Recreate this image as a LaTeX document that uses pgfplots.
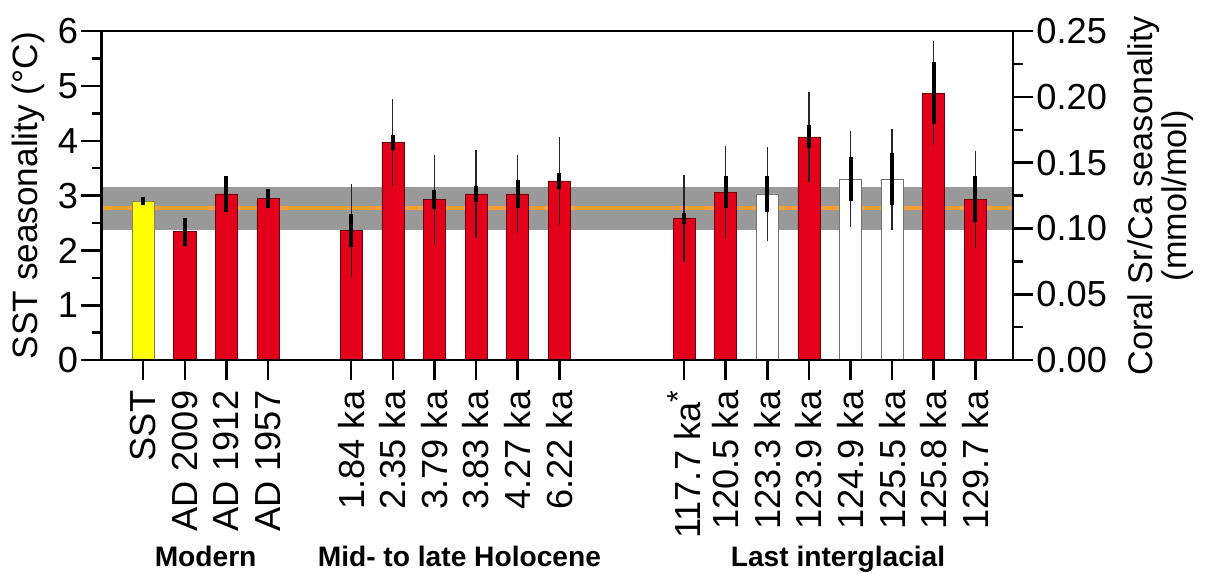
\documentclass[border=0pt]{standalone}
\usepackage{fontspec}
\setmainfont{Liberation Sans}
\usepackage{pgfplots}
\pgfplotsset{compat=1.18}

\definecolor{barred}{RGB}{226,0,26}
\definecolor{barredline}{RGB}{110,0,10}
\definecolor{baryellow}{RGB}{255,255,0}
\definecolor{bandgray}{RGB}{153,153,153}
\definecolor{sstorange}{RGB}{245,158,50}

\begin{document}
\begin{tikzpicture}
\begin{axis}[
  name=main,
  scale only axis, width=906pt, height=327pt,
  xmin=-1, xmax=20.9, ymin=0, ymax=6,
  axis on top, clip mode=individual,
  axis line style={line width=2.5pt},
  tick align=outside, xtick pos=bottom, ytick pos=left,
  major tick length=20pt, minor tick length=10pt,
  every tick/.style={black, line width=2.5pt},
  xtick={0,1,2,3,5,6,7,8,9,10,13,14,15,16,17,18,19,20},
  xticklabels={SST, AD 2009, AD 1912, AD 1957, 1.84 ka, 2.35 ka, 3.79 ka, 3.83 ka, 4.27 ka, 6.22 ka,
    117.7 ka\raisebox{0.32em}{\fontsize{30}{30}\selectfont *}, 120.5 ka, 123.3 ka, 123.9 ka, 124.9 ka, 125.5 ka, 125.8 ka, 129.7 ka},
  ytick={0,1,2,3,4,5,6}, minor y tick num=1,
  tick label style={font=\fontsize{36}{40}\selectfont, /pgf/number format/assume math mode=true},
  xticklabel style={rotate=90, anchor=east},
  xticklabel shift=7pt,
  ylabel={SST seasonality (°C)},
  ylabel style={font=\fontsize{35}{40}\selectfont},
  ylabel shift=6pt,
]
% reference band and mean line
\addplot[forget plot, draw=none, fill=bandgray] coordinates {(-1,2.38) (21,2.38) (21,3.15) (-1,3.15)} -- cycle;
\addplot[forget plot, sstorange, line width=3.5pt] coordinates {(-1,2.77) (21,2.77)};

% bars
\addplot[ybar, bar width=0.53, bar shift=0pt, fill=baryellow, draw=black!40!yellow!80!black, line width=0.6pt]
  coordinates {(0,2.90)};
\addplot[ybar, bar width=0.53, bar shift=0pt, fill=barred, draw=barredline, line width=0.6pt]
  coordinates {(1,2.34) (2,3.03) (3,2.95) (5,2.36) (6,3.97) (7,2.93) (8,3.03) (9,3.03) (10,3.27)
    (13,2.58) (14,3.06) (16,4.07) (19,4.87) (20,2.93)};
\addplot[ybar, bar width=0.53, bar shift=0pt, fill=white, draw=black!55, line width=0.8pt]
  coordinates {(15,3.03) (17,3.30) (18,3.30)};

% thin error bars
\addplot[forget plot, draw=none, mark=none, error bars/.cd, y dir=both, y explicit, error mark=none,
  error bar style={draw=black!85, line width=1.3pt}]
  coordinates {(5,2.36) +- (0,0.85) (6,3.97) +- (0,0.79) (7,2.93) +- (0,0.82) (8,3.03) +- (0,0.81)
    (9,3.03) +- (0,0.72) (10,3.27) +- (0,0.80) (13,2.58) +- (0,0.80) (14,3.06) +- (0,0.84)
    (15,3.03) +- (0,0.85) (16,4.07) +- (0,0.82) (17,3.30) +- (0,0.88) (18,3.30) +- (0,0.92)
    (19,4.87) +- (0,0.95) (20,2.93) +- (0,0.88)};
% thick error bars
\addplot[forget plot, draw=none, mark=none, error bars/.cd, y dir=both, y explicit, error mark=none,
  error bar style={draw=black, line width=4pt}]
  coordinates {(0,2.90) +- (0,0.08) (1,2.34) +- (0,0.26) (2,3.03) +- (0,0.33) (3,2.95) +- (0,0.17)
    (5,2.36) +- (0,0.30) (6,3.97) +- (0,0.14) (7,2.93) +- (0,0.18) (8,3.03) +- (0,0.15)
    (9,3.03) +- (0,0.26) (10,3.27) +- (0,0.15) (13,2.58) +- (0,0.10) (14,3.06) +- (0,0.29)
    (15,3.03) +- (0,0.33) (16,4.07) +- (0,0.21) (17,3.30) +- (0,0.40) (18,3.30) +- (0,0.48)
    (19,4.87) +- (0,0.57) (20,2.93) +- (0,0.42)};

% group labels
\node[font=\bfseries\fontsize{28}{32}\selectfont, anchor=base] at (axis cs:1.5,0) [yshift=-205pt] {Modern};
\node[font=\bfseries\fontsize{28}{32}\selectfont, anchor=base] at (axis cs:7.6,0) [yshift=-205pt] {Mid- to late Holocene};
\node[font=\bfseries\fontsize{28}{32}\selectfont, anchor=base] at (axis cs:16.7,0) [yshift=-205pt] {Last interglacial};
\end{axis}

\begin{axis}[
  scale only axis, width=906pt, height=327pt,
  xmin=-1, xmax=20.9, ymin=0, ymax=0.25,
  axis x line=none, axis y line*=right,
  axis line style={line width=2.5pt, -},
  tick align=outside,
  major tick length=20pt, minor tick length=10pt,
  every tick/.style={black, line width=2.5pt},
  ytick={0,0.05,0.1,0.15,0.2,0.25}, minor y tick num=1,
  yticklabel style={font=\fontsize{36}{40}\selectfont,
    /pgf/number format/.cd, fixed, fixed zerofill, precision=2, assume math mode=true},
  ylabel={Coral Sr/Ca seasonality\\(mmol/mol)},
  ylabel style={font=\fontsize{34}{34}\selectfont, align=center},
  ylabel shift=14pt,
]
\end{axis}
\pgfresetboundingbox
\path ([shift={(-101pt,-212pt)}]main.south west) rectangle ([shift={(209pt,31pt)}]main.north east);
\end{tikzpicture}
\end{document}
